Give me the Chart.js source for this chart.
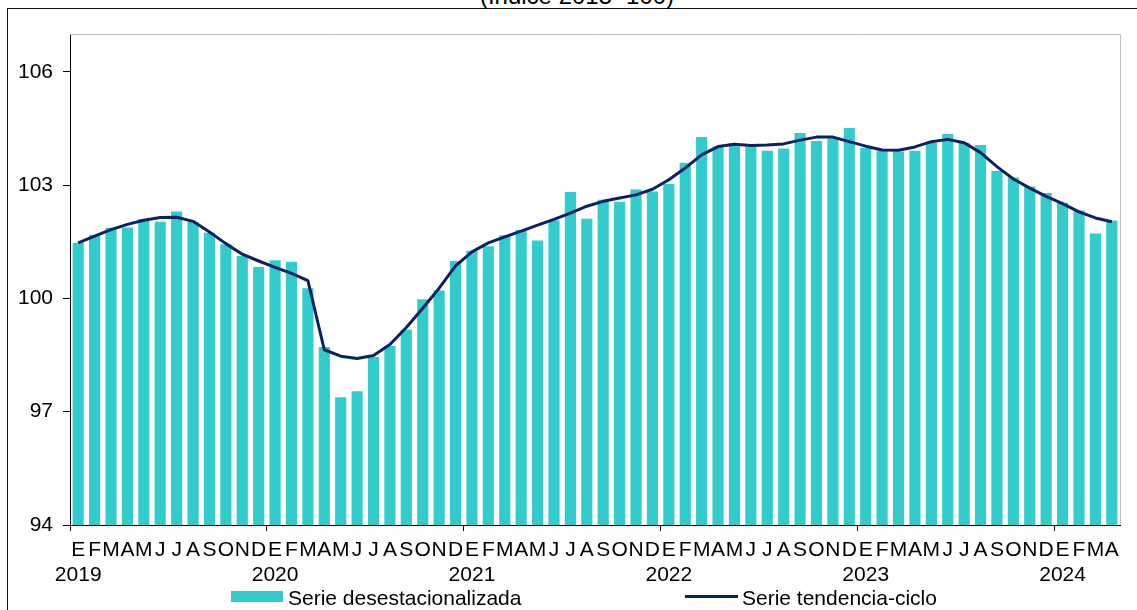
<!DOCTYPE html>
<html lang="es">
<head>
<meta charset="utf-8">
<title>Serie desestacionalizada y tendencia-ciclo</title>
<script src="https://cdn.jsdelivr.net/npm/chart.js@4.4.1/dist/chart.umd.min.js"></script>
<style>
    html, body { margin: 0; padding: 0; background: #fff; overflow: hidden; }
    body { width: 1137px; height: 610px; position: relative; font-family: "Liberation Sans", Arial, sans-serif; color: #000; }
    #marco { position: absolute; left: 7px; top: 8px; width: 1150px; height: 620px; border-left: 1px solid #111; border-top: 1px solid #111; }
    #titulo { position: absolute; left: 0; top: -16px; width: 1154px; text-align: center; font-size: 24px; line-height: 24px; }
    #grafico { position: absolute; left: 0; top: 0; }
    .leyenda-txt { position: absolute; top: 587px; font-size: 21px; line-height: 21px; white-space: nowrap; }
    #caja-barra { position: absolute; left: 231px; top: 591px; width: 52px; height: 11px; background: #33cccc; }
    #caja-linea { position: absolute; left: 685px; top: 595px; width: 53px; height: 3px; background: #0a2163; }
</style>
</head>
<body>
<div id="marco"></div>
<div id="titulo">(Índice 2015=100)</div>
<canvas id="grafico" width="1137" height="610"></canvas>
<span id="caja-barra"></span><span class="leyenda-txt" style="left:288px">Serie desestacionalizada</span>
<span id="caja-linea"></span><span class="leyenda-txt" style="left:742px">Serie tendencia-ciclo</span>
<script>
// Meses y años del eje
const meses = ['E', 'F', 'M', 'A', 'M', 'J', 'J', 'A', 'S', 'O', 'N', 'D'];
const anios = ['2019', '2020', '2021', '2022', '2023', '2024'];
const marcasY = [94, 97, 100, 103, 106];

// Serie desestacionalizada (barras), ene 2019 - abr 2024
const desestacionalizada = [
    101.47, 101.68, 101.87, 101.88, 102.10, 102.03, 102.30, 102.02, 101.74, 101.43, 101.12, 100.83,
    101.01, 100.97, 100.27, 98.71, 97.38, 97.54, 98.45, 98.74, 99.17, 99.98, 100.21, 100.99,
    101.26, 101.38, 101.67, 101.81, 101.53, 102.07, 102.82, 102.11, 102.61, 102.56, 102.88, 102.83,
    103.03, 103.59, 104.27, 104.02, 104.11, 104.02, 103.91, 103.97, 104.38, 104.17, 104.24, 104.51,
    103.99, 103.91, 103.89, 103.91, 104.12, 104.35, 104.12, 104.06, 103.37, 103.20, 102.96, 102.79,
    102.53, 102.33, 101.72, 102.06
];

// Serie tendencia-ciclo (línea)
const tendenciaCiclo = [
    101.47, 101.65, 101.82, 101.96, 102.07, 102.14, 102.15, 102.04, 101.76, 101.45, 101.17, 100.99,
    100.82, 100.66, 100.47, 98.64, 98.47, 98.41, 98.49, 98.78, 99.23, 99.74, 100.27, 100.86,
    101.23, 101.47, 101.63, 101.78, 101.94, 102.09, 102.26, 102.44, 102.57, 102.66, 102.74, 102.89,
    103.14, 103.45, 103.80, 104.02, 104.08, 104.05, 104.06, 104.09, 104.19, 104.27, 104.27, 104.15,
    104.03, 103.93, 103.92, 104.01, 104.15, 104.21, 104.12, 103.86, 103.49, 103.16, 102.92, 102.70,
    102.51, 102.29, 102.13, 102.03
];

// Etiquetas: letra del mes y, en enero, el año debajo
const etiquetas = desestacionalizada.map((v, i) => {
    const mes = meses[i % 12];
    return i % 12 === 0 ? [mes, anios[Math.floor(i / 12)]] : mes;
});

const fuente = '"Liberation Sans", Arial, sans-serif';

// Borde gris arriba y a la derecha del área de trazado
const bordeArea = {
    id: 'bordeArea',
    beforeDatasetsDraw(chart) {
        const { ctx, chartArea: a } = chart;
        ctx.save();
        ctx.strokeStyle = '#c0c0c0';
        ctx.lineWidth = 1;
        ctx.beginPath();
        ctx.moveTo(a.left, a.top + 0.5);
        ctx.lineTo(a.right + 0.5, a.top + 0.5);
        ctx.lineTo(a.right + 0.5, a.bottom);
        ctx.stroke();
        ctx.restore();
    }
};

new Chart(document.getElementById('grafico'), {
    type: 'bar',
    data: {
        labels: etiquetas,
        datasets: [
            {
                type: 'line',
                label: 'Serie tendencia-ciclo',
                data: tendenciaCiclo,
                borderColor: '#0a2163',
                borderWidth: 3,
                pointRadius: 0,
                tension: 0,
                borderJoinStyle: 'round',
                order: 0
            },
            {
                label: 'Serie desestacionalizada',
                data: desestacionalizada,
                backgroundColor: '#33cccc',
                borderWidth: 0,
                categoryPercentage: 1,
                barPercentage: 0.68,
                order: 1
            }
        ]
    },
    options: {
        responsive: false,
        animation: false,
        devicePixelRatio: 1,
        layout: {
            padding: { top: 34, right: 17, left: 0, bottom: 25 }
        },
        plugins: {
            legend: { display: false },
            tooltip: { enabled: false }
        },
        scales: {
            x: {
                grid: {
                    display: true,
                    drawOnChartArea: false,
                    drawTicks: true,
                    tickLength: 6,
                    color: ctx => ctx.index % 12 === 0 ? '#000' : 'rgba(0,0,0,0)'
                },
                border: { display: true, color: '#000' },
                ticks: {
                    autoSkip: false,
                    maxRotation: 0,
                    color: '#000',
                    padding: 7,
                    font: { family: fuente, size: 21, lineHeight: 1.17 }
                },
                afterFit: s => { s.height = 60; }
            },
            y: {
                min: 94,
                max: 107,
                grid: {
                    display: true,
                    drawOnChartArea: false,
                    drawTicks: true,
                    tickLength: 7,
                    color: '#000'
                },
                border: { display: true, color: '#000' },
                ticks: {
                    color: '#000',
                    padding: 10,
                    font: { family: fuente, size: 21 }
                },
                afterBuildTicks: s => { s.ticks = marcasY.map(v => ({ value: v })); },
                afterFit: s => { s.width = 70; }
            }
        }
    },
    plugins: [bordeArea]
});
</script>
</body>
</html>
